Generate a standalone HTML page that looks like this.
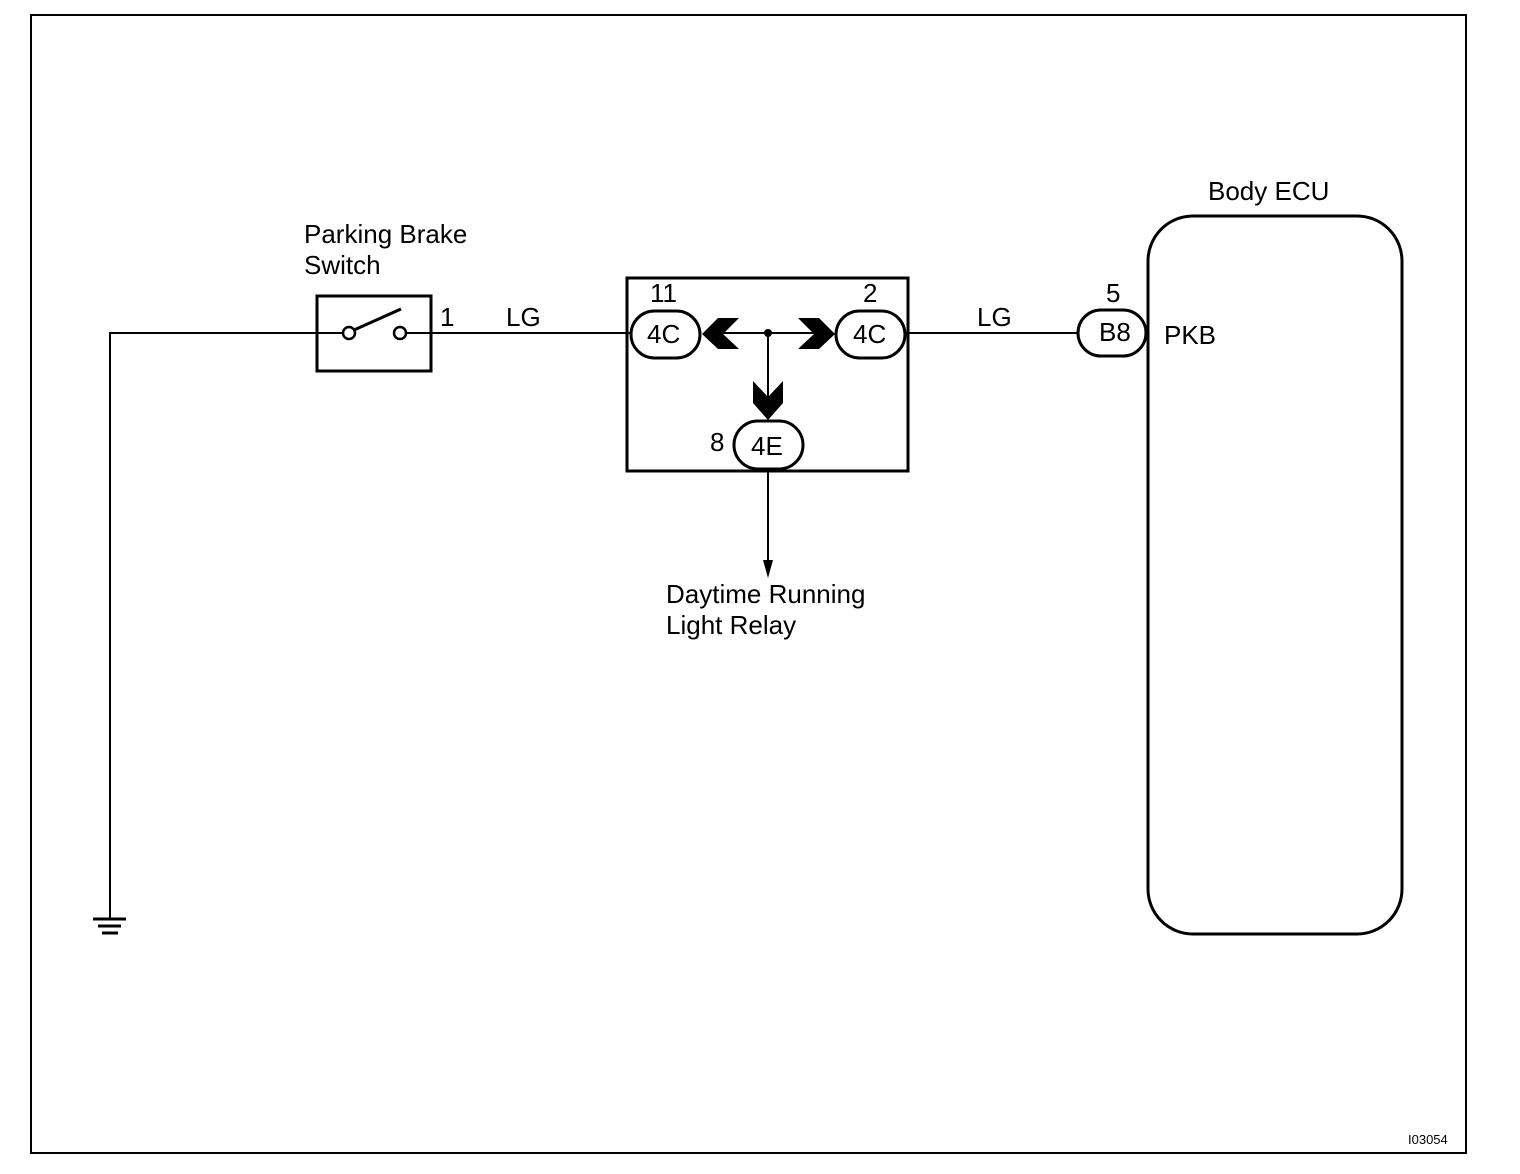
<!DOCTYPE html>
<html><head><style>
html,body{margin:0;padding:0;background:#fff;}
svg{display:block;}
text{font-family:"Liberation Sans",sans-serif;fill:#000;}
</style></head><body>
<svg width="1520" height="1174" viewBox="0 0 1520 1174" xmlns="http://www.w3.org/2000/svg">
<rect x="31" y="15" width="1435" height="1138" fill="none" stroke="#000" stroke-width="2"/>
<g fill="none" stroke="#000" stroke-width="2">
<polyline points="110,918 110,333 343,333"/>
<line x1="93" y1="919" x2="126" y2="919" stroke-width="3"/>
<line x1="98" y1="926" x2="121" y2="926" stroke-width="3"/>
<line x1="102" y1="933" x2="118" y2="933" stroke-width="3"/>
<rect x="317" y="296" width="114" height="75" stroke-width="3"/>
<circle cx="349" cy="333" r="6" stroke-width="2.5"/>
<circle cx="400" cy="333" r="6" stroke-width="2.5"/>
<line x1="354" y1="330" x2="401" y2="309" stroke-width="3"/>
<line x1="406" y1="333" x2="631" y2="333"/>
<rect x="627" y="278" width="281" height="193" stroke-width="3"/>
<rect x="631" y="311" width="69" height="47" rx="23.5" stroke-width="3"/>
<rect x="836" y="311" width="69" height="47" rx="23.5" stroke-width="3"/>
<rect x="734" y="421" width="69" height="48" rx="24" stroke-width="3"/>
<line x1="720" y1="333" x2="820" y2="333"/>
<line x1="768" y1="333" x2="768" y2="400"/>
<line x1="905" y1="333" x2="1078" y2="333"/>
<line x1="768" y1="471" x2="768" y2="565"/>
<rect x="1078" y="310" width="68" height="46" rx="23" stroke-width="3"/>
<rect x="1148" y="216" width="254" height="718" rx="45" stroke-width="3"/>
</g>
<circle cx="768" cy="333" r="4" fill="#000"/>
<polygon points="702,334 718,318 739,318 723,334 739,349 718,349" fill="#000"/>
<polygon points="835,334 819,318 798,318 814,334 798,349 819,349" fill="#000"/>
<polygon points="768,420 753,403 753,381 768,397 783,381 783,403" fill="#000"/>
<polygon points="763,560 773,560 768,578" fill="#000"/>
<g font-size="26">
<text x="304" y="243">Parking Brake</text>
<text x="304" y="274">Switch</text>
<text x="440" y="326">1</text>
<text x="506" y="326">LG</text>
<text x="977" y="326">LG</text>
<text x="650" y="302">11</text>
<text x="863" y="302">2</text>
<text x="710" y="451">8</text>
<text x="1106" y="302">5</text>
<text x="647" y="343">4C</text>
<text x="853" y="343">4C</text>
<text x="751" y="455">4E</text>
<text x="1099" y="341">B8</text>
<text x="1164" y="344">PKB</text>
<text x="1208" y="200">Body ECU</text>
<text x="666" y="603">Daytime Running</text>
<text x="666" y="634">Light Relay</text>
</g>
<text x="1408" y="1144" font-size="13">I03054</text>
</svg>
</body></html>
